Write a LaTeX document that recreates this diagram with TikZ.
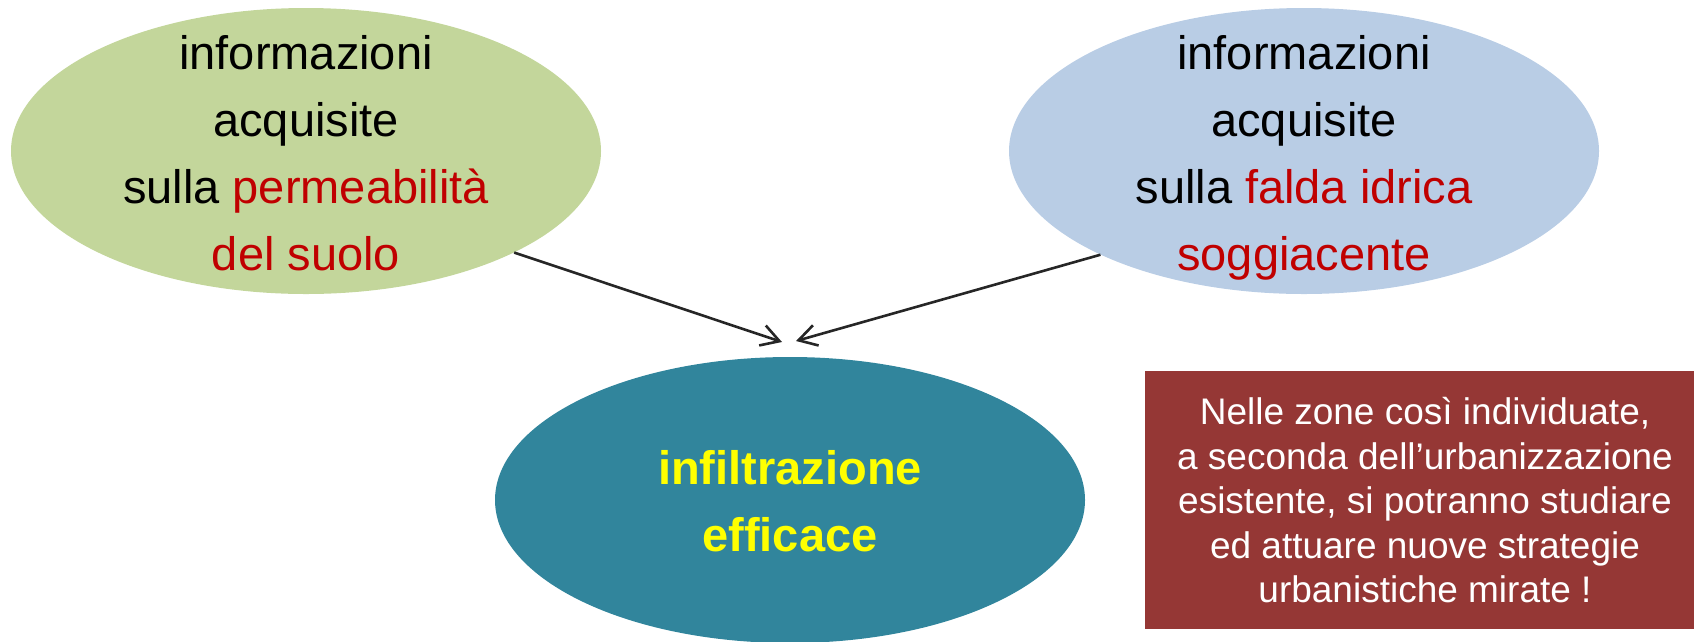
\documentclass[tikz,border=0pt]{standalone}
\usepackage{fontspec}
\setmainfont{Liberation Sans}[Ligatures=NoCommon]
\usetikzlibrary{shapes.geometric,arrows.meta}
\definecolor{ellgreen}{HTML}{C3D69B}
\definecolor{ellblue}{HTML}{B9CDE5}
\definecolor{ellteal}{HTML}{31859C}
\definecolor{boxred}{HTML}{953735}
\definecolor{txtred}{HTML}{C00000}
\definecolor{arrgray}{HTML}{262626}
\definecolor{txtyellow}{HTML}{FFFF00}
\begin{document}
\begin{tikzpicture}[x=1pt,y=-1pt,
  blob/.style={ellipse, draw=none, inner sep=0pt, minimum width=590pt, minimum height=286pt},
  bigtext/.style={align=center, inner sep=0pt, text depth=0pt, font=\fontsize{47}{67}\selectfont},
  notebox/.style={fill=boxred, minimum width=560pt, minimum height=258pt, inner sep=0pt,
    text=white, align=center, text depth=0pt, font=\fontsize{37}{44.5}\selectfont},
  arr/.style={draw=arrgray, line width=2.6pt, -{Straight Barb[length=18pt,width=21pt]}}]
\clip (0,0) rectangle (1694,641);
\node[blob, fill=ellgreen] (L) at (306,151) {};
\node[blob, fill=ellblue] (R) at (1304,151) {};
\node[blob, fill=ellteal] (B) at (790,500) {};
\node[bigtext] (LT) at (306,153) {informazioni\\acquisite\\sulla \textcolor{txtred}{permeabilità}\\\textcolor{txtred}{del suolo}};
\node[bigtext] (RT) at (1304,153) {informazioni\\acquisite\\sulla \textcolor{txtred}{falda idrica}\\\textcolor{txtred}{soggiacente}};
\node[bigtext, font=\fontsize{47}{67}\selectfont\bfseries, text=txtyellow] (BT) at (790,501) {infiltrazione\\efficace};
\node[notebox] (N) at (1425,500) {Nelle zone così individuate,\\a seconda dell’urbanizzazione\\esistente, si potranno studiare\\ed attuare nuove strategie\\urbanistiche mirate !};
\coordinate (tipL) at (782,342);
\coordinate (tipR) at (796,341);
\draw[arr] (L.-26.5) -- (tipL);
\draw[arr] (R.-153.4) -- (tipR);
\end{tikzpicture}
\end{document}
